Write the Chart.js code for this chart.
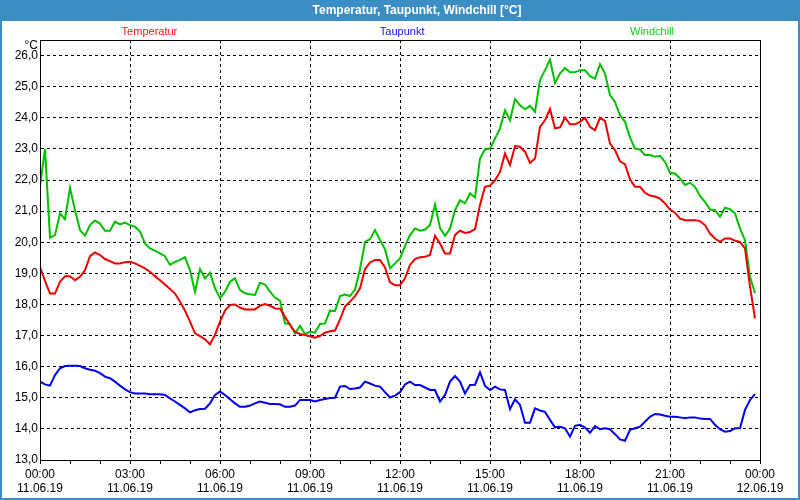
<!DOCTYPE html>
<html>
<head>
<meta charset="utf-8">
<title>Temperatur, Taupunkt, Windchill</title>
<script src="https://cdn.jsdelivr.net/npm/chart.js@4.4.0/dist/chart.umd.min.js"></script>
<style>
    html, body { margin: 0; padding: 0; background: #ffffff; }
    canvas { display: block; }
</style>
</head>
<body>
<canvas id="weatherChart" width="800" height="500"></canvas>
<script>
// ===== DATA (11.06.19, one value every 10 minutes) =====
const sampleMinutes = 10;

const temperatur = [
    19.2, 18.76, 18.35, 18.35, 18.73, 18.91, 18.91, 18.78, 18.89, 19.1, 19.55, 19.67,
    19.59, 19.46, 19.39, 19.32, 19.32, 19.36, 19.37, 19.32, 19.24, 19.16, 19.05, 18.91,
    18.78, 18.64, 18.5, 18.35, 18.09, 17.8, 17.45, 17.07, 16.98, 16.88, 16.72, 17.02,
    17.45, 17.8, 17.98, 18.0, 17.9, 17.84, 17.84, 17.84, 17.96, 18.01, 17.96, 17.87,
    17.86, 17.6, 17.34, 17.12, 17.05, 17.02, 16.98, 16.93, 16.98, 17.09, 17.14, 17.16,
    17.52, 17.93, 18.09, 18.27, 18.52, 19.13, 19.35, 19.43, 19.43, 19.19, 18.71, 18.62,
    18.62, 18.84, 19.27, 19.46, 19.52, 19.53, 19.59, 20.21, 19.96, 19.64, 19.64, 20.23,
    20.37, 20.3, 20.33, 20.42, 21.2, 21.78, 21.82, 21.99, 22.26, 22.85, 22.48, 23.09,
    23.07, 22.91, 22.55, 22.69, 23.71, 23.92, 24.28, 23.66, 23.69, 24.01, 23.79, 23.79,
    23.87, 24.0, 23.71, 23.6, 24.0, 23.9, 23.17, 22.96, 22.6, 22.51, 22.02, 21.78,
    21.78, 21.59, 21.5, 21.47, 21.4, 21.25, 21.05, 20.95, 20.76, 20.71, 20.71, 20.71,
    20.68, 20.55, 20.28, 20.12, 20.01, 20.12, 20.12, 20.05, 20.01, 19.8, 18.57, 17.55
];

const taupunkt = [
    15.52, 15.43, 15.39, 15.73, 15.95, 16.02, 16.03, 16.03, 16.02, 15.95, 15.9, 15.87,
    15.79, 15.68, 15.63, 15.52, 15.39, 15.27, 15.18, 15.14, 15.14, 15.14, 15.11, 15.11,
    15.11, 15.09, 14.98, 14.88, 14.77, 14.66, 14.53, 14.6, 14.64, 14.65, 14.82, 15.09,
    15.2, 15.09, 14.95, 14.82, 14.71, 14.71, 14.75, 14.82, 14.88, 14.84, 14.8, 14.8,
    14.79, 14.71, 14.71, 14.75, 14.93, 14.93, 14.93, 14.88, 14.93, 14.96, 14.99, 15.0,
    15.36, 15.38, 15.28, 15.3, 15.33, 15.52, 15.46, 15.39, 15.36, 15.18, 15.01, 15.07,
    15.18, 15.43, 15.52, 15.41, 15.41, 15.33, 15.25, 15.25, 14.88, 15.09, 15.52, 15.7,
    15.52, 15.14, 15.41, 15.42, 15.82, 15.38, 15.25, 15.36, 15.27, 15.25, 14.63, 14.95,
    14.77, 14.2, 14.2, 14.66, 14.59, 14.55, 14.29, 14.05, 14.07, 14.02, 13.75, 14.1,
    14.13, 14.04, 13.88, 14.09, 13.99, 14.02, 13.99, 13.83, 13.66, 13.62, 13.97, 14.02,
    14.07, 14.23, 14.39, 14.48, 14.46, 14.42, 14.39, 14.39, 14.37, 14.34, 14.37, 14.37,
    14.33, 14.32, 14.32, 14.13, 13.99, 13.91, 13.93, 14.02, 14.02, 14.61, 14.93, 15.12
];

const windchill = [
    21.8, 23.0, 20.15, 20.23, 20.92, 20.74, 21.75, 21.03, 20.39, 20.21, 20.55, 20.7,
    20.6, 20.37, 20.37, 20.66, 20.57, 20.63, 20.55, 20.5, 20.34, 19.96, 19.8, 19.73,
    19.64, 19.55, 19.27, 19.37, 19.43, 19.52, 19.1, 18.41, 19.13, 18.84, 19.02, 18.52,
    18.2, 18.41, 18.73, 18.84, 18.46, 18.36, 18.33, 18.31, 18.7, 18.64, 18.41, 18.22,
    18.12, 17.39, 17.37, 17.07, 17.31, 17.05, 17.12, 17.09, 17.37, 17.39, 17.8, 17.79,
    18.27, 18.32, 18.27, 18.48, 19.13, 20.01, 20.1, 20.39, 20.07, 19.77, 19.16, 19.32,
    19.48, 19.88, 20.23, 20.44, 20.37, 20.41, 20.55, 21.21, 20.46, 20.2, 20.44, 21.03,
    21.35, 21.25, 21.57, 21.44, 22.69, 22.98, 23.01, 23.33, 23.66, 24.24, 23.92, 24.6,
    24.4, 24.27, 24.38, 24.19, 25.21, 25.53, 25.87, 25.12, 25.42, 25.6, 25.46, 25.46,
    25.53, 25.53, 25.34, 25.26, 25.72, 25.42, 24.73, 24.51, 24.08, 23.87, 23.37, 23.01,
    22.98, 22.8, 22.8, 22.75, 22.78, 22.58, 22.23, 22.21, 22.05, 21.84, 21.91, 21.78,
    21.49, 21.3, 21.05, 21.03, 20.82, 21.11, 21.06, 20.93, 20.44, 20.07, 18.89, 18.36
];

const seriesNames = ['Temperatur', 'Taupunkt', 'Windchill'];
const lineColors = ['#ee0000', '#0000ee', '#00c000'];
const labelColors = ['#ff1010', '#1010ff', '#10d010'];

const timeTicks = ['00:00', '03:00', '06:00', '09:00', '12:00', '15:00', '18:00', '21:00', '00:00'];
const dateTicks = ['11.06.19', '11.06.19', '11.06.19', '11.06.19', '11.06.19', '11.06.19', '11.06.19', '11.06.19', '12.06.19'];

const chartTitle = 'Temperatur, Taupunkt, Windchill [°C]';
const unitLabel = '°C';

// ===== STYLE =====
const fontFamily = '"Liberation Sans", Arial, sans-serif';
const barColor = '#3b8ec3';

function toPoints(values) {
    return values.map((v, i) => ({ x: i * sampleMinutes, y: v }));
}

// ===== FRAME, TITLE BAR AND SERIES LABELS =====
const framePlugin = {
    id: 'framePlugin',
    beforeDraw(chart) {
        const c = chart.ctx;
        c.save();
        c.fillStyle = '#ffffff';
        c.fillRect(0, 0, chart.width, chart.height);
        c.fillStyle = barColor;
        c.fillRect(0, 0, chart.width, 21);
        c.strokeStyle = barColor;
        c.lineWidth = 2;
        c.strokeRect(1, 1, chart.width - 2, chart.height - 2);
        c.fillStyle = '#ffffff';
        c.font = 'bold 12px ' + fontFamily;
        c.textAlign = 'center';
        c.textBaseline = 'middle';
        c.fillText(chartTitle, 417, 11);
        c.restore();
    },
    afterDraw(chart) {
        const c = chart.ctx;
        const a = chart.chartArea;
        c.save();
        c.strokeStyle = '#000000';
        c.lineWidth = 1;
        c.strokeRect(Math.round(a.left) + 0.5, Math.round(a.top) + 0.5,
            Math.round(a.right - a.left), Math.round(a.bottom - a.top));

        // series names above the plot
        const spots = [0.152, 0.503, 0.85];
        c.font = '11px ' + fontFamily;
        c.textAlign = 'center';
        c.textBaseline = 'middle';
        seriesNames.forEach((name, i) => {
            c.fillStyle = labelColors[i];
            c.fillText(name, a.left + (a.right - a.left) * spots[i], 32);
        });

        // unit above the y axis
        c.fillStyle = '#000000';
        c.font = '12px ' + fontFamily;
        c.textAlign = 'right';
        c.fillText(unitLabel, a.left - 2, 46);
        c.restore();
    }
};

// ===== CHART =====
const ctx = document.getElementById('weatherChart');
const weatherChart = new Chart(ctx, {
    type: 'line',
    data: {
        datasets: [
            { label: seriesNames[0], data: toPoints(temperatur), borderColor: lineColors[0] },
            { label: seriesNames[1], data: toPoints(taupunkt), borderColor: lineColors[1] },
            { label: seriesNames[2], data: toPoints(windchill), borderColor: lineColors[2] }
        ]
    },
    options: {
        responsive: false,
        animation: false,
        layout: { padding: { top: 40, right: 40, bottom: 0, left: 0 } },
        elements: {
            line: { borderWidth: 2, tension: 0, fill: false },
            point: { radius: 0 }
        },
        plugins: {
            legend: { display: false },
            tooltip: { enabled: false }
        },
        scales: {
            x: {
                type: 'linear',
                min: 0,
                max: 1440,
                afterFit: scale => { scale.height = 40; },
                ticks: {
                    stepSize: 60,
                    autoSkip: false,
                    maxRotation: 0,
                    padding: 3,
                    color: '#000000',
                    font: { family: fontFamily, size: 12 },
                    callback: v => v % 180 === 0 ? [timeTicks[v / 180], dateTicks[v / 180]] : ''
                },
                grid: {
                    color: c => (c.tick && c.tick.value % 180 === 0) ? '#000000' : 'rgba(0,0,0,0)',
                    tickColor: '#000000',
                    tickLength: 4
                },
                border: { color: '#000000', dash: [3, 3] }
            },
            y: {
                min: 13,
                max: 26.5,
                afterFit: scale => { scale.width = 40; },
                afterBuildTicks: axis => {
                    axis.ticks = axis.ticks.filter(t => Number.isInteger(t.value));
                },
                ticks: {
                    stepSize: 1,
                    padding: 2,
                    color: '#000000',
                    font: { family: fontFamily, size: 12 },
                    callback: v => v.toFixed(1).replace('.', ',')
                },
                grid: { color: '#000000', drawTicks: false },
                border: { color: '#000000', dash: [3, 3] }
            }
        }
    },
    plugins: [framePlugin]
});
</script>
</body>
</html>
